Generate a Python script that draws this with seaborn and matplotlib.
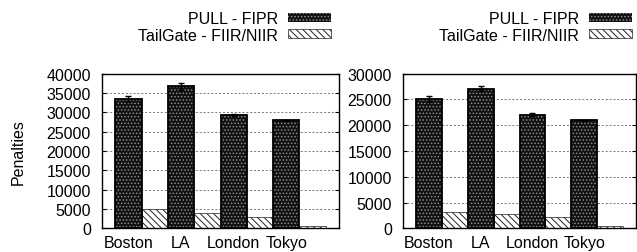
import matplotlib
matplotlib.use("Agg")
import matplotlib.pyplot as plt
import seaborn as sns
import pandas as pd
from matplotlib.patches import Patch, Rectangle

cities = ["Boston", "LA", "London", "Tokyo"]
schemes = ["PULL - FIPR", "TailGate - FIIR/NIIR"]

left_pull = [33500, 36700, 29300, 27900]
left_pull_err = [800, 900, 350, 150]
left_tail = [4900, 3900, 3000, 600]

right_pull = [25100, 27100, 22000, 21000]
right_pull_err = [500, 450, 300, 100]
right_tail = [3100, 2700, 2200, 400]

left_ymax, left_step = 40000, 5000
right_ymax, right_step = 30000, 5000

sns.set_style("white")
plt.rcParams["font.family"] = ["Liberation Sans", "DejaVu Sans"]
plt.rcParams["hatch.linewidth"] = 0.7
for k in ["text.color", "axes.labelcolor", "xtick.color", "ytick.color",
          "xtick.labelcolor", "ytick.labelcolor"]:
    plt.rcParams[k] = "black"

W, H = 637, 253
FS = 11.5
fig = plt.figure(figsize=(W / 100, H / 100), dpi=100)

PULL_FACE, PULL_DOTS, PULL_HATCH = "#111111", "#8c8c8c", "....."
TAIL_FACE, TAIL_LINES, TAIL_HATCH = "white", "#222222", "\\\\\\\\\\"


def px_axes(x0, x1, ytop, ybot):
    return fig.add_axes([x0 / W, 1 - ybot / H, (x1 - x0) / W, (ybot - ytop) / H])


def draw(ax, pull, err, tail, ymax, step, legend_right):
    df = pd.DataFrame({
        "city": cities * 2,
        "scheme": [schemes[0]] * 4 + [schemes[1]] * 4,
        "value": list(pull) + list(tail),
    })
    sns.barplot(data=df, x="city", y="value", hue="scheme", hue_order=schemes,
                order=cities, width=1.0, errorbar=None, legend=False,
                palette=[PULL_FACE, TAIL_FACE], ax=ax, zorder=2)
    pull_bars = ax.containers[0]
    tail_bars = ax.containers[1]
    for p in pull_bars:
        p.set_hatch(PULL_HATCH)
        p.set_edgecolor(PULL_DOTS)
        p.set_linewidth(0)
        ax.add_patch(Rectangle((p.get_x(), p.get_y()), p.get_width(), p.get_height(),
                               fill=False, edgecolor="black", lw=1.3, zorder=3))
    for p in tail_bars:
        p.set_hatch(TAIL_HATCH)
        p.set_edgecolor(TAIL_LINES)
        p.set_linewidth(0.5)
    xs = [p.get_x() + p.get_width() / 2 for p in pull_bars]
    ax.errorbar(xs, pull, yerr=err, fmt="none", ecolor="black", elinewidth=1,
                capsize=2, capthick=1, zorder=4)
    ax.set_xticks(xs)
    ax.set_xticklabels(cities)
    ax.set_xlim(-0.75, 3.75)
    ax.set_ylim(0, ymax)
    ax.set_yticks(list(range(0, ymax + 1, step)))
    ax.set_xlabel("")
    ax.set_ylabel("")
    ax.yaxis.grid(True, linestyle=(0, (2, 2)), color="#777777", lw=0.7)
    ax.set_axisbelow(True)
    for s in ax.spines.values():
        s.set_visible(True)
        s.set_color("black")
        s.set_linewidth(1.0)
    ax.tick_params(axis="y", direction="in", length=3, width=0.8, left=True,
                   right=True, labelsize=FS, pad=8, colors="black")
    ax.tick_params(axis="x", length=0, labelsize=FS, pad=5, colors="black")
    handles = [
        Patch(facecolor=PULL_FACE, edgecolor=PULL_DOTS, hatch=PULL_HATCH, lw=0),
        Patch(facecolor=TAIL_FACE, edgecolor=TAIL_LINES, hatch=TAIL_HATCH, lw=0.5),
    ]
    ax.legend(handles, schemes, loc="upper right",
              bbox_to_anchor=(legend_right / W, 1 - 12 / H),
              bbox_transform=fig.transFigure, frameon=False, markerfirst=False,
              borderpad=0, borderaxespad=0, handlelength=2.7, handleheight=0.5,
              handletextpad=0.6, labelspacing=0.1, fontsize=FS,
              labelcolor="black")


ax1 = px_axes(102, 339, 74.7, 229.3)
draw(ax1, left_pull, left_pull_err, left_tail, left_ymax, left_step, 331)
ax1.set_ylabel("Penalties", fontsize=FS, labelpad=15, color="black")

ax2 = px_axes(403, 636, 74.7, 229.3)
draw(ax2, right_pull, right_pull_err, right_tail, right_ymax, right_step, 632)

fig.savefig("out.png", dpi=100)
